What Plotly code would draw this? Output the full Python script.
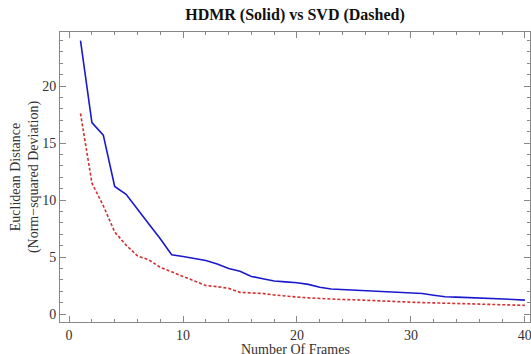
import plotly.graph_objects as go

frames = list(range(1, 41))
hdmr = [24.0, 16.8, 15.7, 11.2, 10.5, 9.15, 7.9, 6.6, 5.2, 5.05,
        4.9, 4.7, 4.4, 4.0, 3.75, 3.3, 3.1, 2.9, 2.82, 2.75,
        2.6, 2.35, 2.2, 2.15, 2.1, 2.0, 1.95, 1.9, 1.88, 1.85,
        1.8, 1.65, 1.52, 1.48, 1.45, 1.42, 1.4, 1.35, 1.28, 1.22]
svd = [17.6, 11.5, 9.5, 7.2, 6.05, 5.1, 4.75, 4.1, 3.7, 3.3,
       2.9, 2.5, 2.4, 2.25, 1.9, 1.88, 1.8, 1.67, 1.55, 1.49,
       1.42, 1.35, 1.29, 1.27, 1.25, 1.2, 1.15, 1.1, 1.05, 1.02,
       1.0, 0.98, 0.95, 0.92, 0.9, 0.88, 0.86, 0.84, 0.8, 0.76]

x_ticks = [0, 10, 20, 30, 40]
y_ticks = [0, 5, 10, 15, 20]

font_family = "Liberation Serif, Times New Roman, serif"

fig = go.Figure()
fig.add_trace(go.Scatter(x=frames, y=svd, mode="lines",
                         line=dict(color="#d03030", width=1.6, dash="3px,2px"),
                         name="SVD"))
fig.add_trace(go.Scatter(x=frames, y=hdmr, mode="lines",
                         line=dict(color="#1a1acc", width=1.6),
                         name="HDMR"))

axis_common = dict(
    showgrid=False, zeroline=False, showline=True, linecolor="#888888",
    linewidth=1, mirror="allticks", ticks="inside", ticklen=6,
    tickcolor="#888888", tickwidth=1, automargin=False,
    ticklabeloverflow="allow",
    tickfont=dict(family=font_family, size=14, color="#333333"),
)

fig.update_layout(
    width=531, height=354,
    margin=dict(l=60, r=1, t=32, b=32, autoexpand=False),
    paper_bgcolor="white", plot_bgcolor="white",
    showlegend=False,
    title=dict(text="<b>HDMR (Solid) vs SVD (Dashed)</b>",
               x=295 / 531, xanchor="center",
               y=1 - 14 / 354, yanchor="middle",
               font=dict(family=font_family, size=16, color="#111111")),
    xaxis=dict(range=[-0.8, 40.45], tickvals=x_ticks,
               minor=dict(dtick=2, tick0=0, ticks="inside", ticklen=3,
                          tickcolor="#888888", showgrid=False),
               **axis_common),
    yaxis=dict(range=[-0.7, 24.75], tickvals=y_ticks,
               minor=dict(dtick=1, tick0=0, ticks="inside", ticklen=3,
                          tickcolor="#888888", showgrid=False),
               title=dict(text="Euclidean Distance<br>(Norm\u2212squared Deviation)",
                          standoff=0,
                          font=dict(family=font_family, size=14, color="#333333")),
               **axis_common),
    annotations=[dict(text="Number Of Frames", xref="paper", yref="paper",
                      x=0.5, y=-(349 - 322) / 290, xanchor="center", yanchor="middle",
                      showarrow=False,
                      font=dict(family=font_family, size=14, color="#333333"))],
)

fig.write_html("out.html",
               config={"displayModeBar": False},
               post_script="document.body.style.margin='0';document.body.style.overflow='hidden';")
